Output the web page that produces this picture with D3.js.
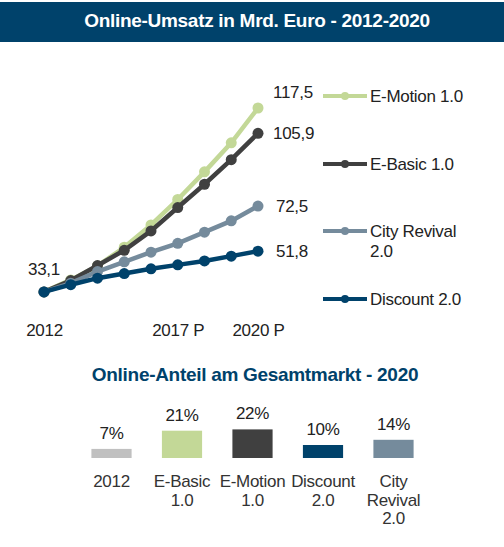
<!DOCTYPE html>
<html>
<head>
    <meta charset="utf-8">
    <title>Online-Umsatz</title>
    <script src="https://d3js.org/d3.v7.min.js"></script>
    <style>
        body { margin: 0; background: #fff; }
        text { font-family: "Liberation Sans", Arial, sans-serif; letter-spacing: -0.3px; }
    </style>
</head>
<body>
    <div id="chart"></div>

    <script>
        // line chart data
        var years = [2012, 2013, 2014, 2015, 2016, 2017, 2018, 2019, 2020];
        var yearLabels = {2012: "2012", 2017: "2017 P", 2020: "2020 P"};
        var seriesNames = ["E-Motion 1.0", "E-Basic 1.0", "City Revival 2.0", "Discount 2.0"];
        var eMotion = [33.1, 38.6, 45.0, 53.6, 63.8, 75.5, 88.2, 101.5, 117.5];
        var eBasic = [33.1, 38.3, 45.2, 52.2, 61.1, 71.8, 82.5, 93.8, 105.9];
        var cityRevival = [33.1, 37.1, 42.4, 46.9, 51.3, 55.4, 60.5, 65.7, 72.5];
        var discount = [33.1, 36.4, 39.4, 41.5, 43.7, 45.5, 47.3, 49.5, 51.8];

        // bar chart data
        var shareCategories = ["2012", "E-Basic 1.0", "E-Motion 1.0", "Discount 2.0", "City Revival 2.0"];
        var shareValues = [7, 21, 22, 10, 14];

        var colors = {
            "E-Motion 1.0": "#c3d897",
            "E-Basic 1.0": "#404040",
            "City Revival 2.0": "#758b9c",
            "Discount 2.0": "#00426b"
        };
        var barColors = ["#c0c0c0", "#c3d897", "#404040", "#00426b", "#758b9c"];
        var navy = "#00426b";

        var svg = d3.select("#chart").append("svg").attr("width", 504).attr("height", 547);

        // title bar
        svg.append("rect").attr("x", 0).attr("y", 2).attr("width", 504).attr("height", 40).attr("fill", navy);
        svg.append("text").attr("x", 257).attr("y", 27).attr("text-anchor", "middle")
           .attr("fill", "#fff").attr("font-weight", "bold").attr("font-size", 19)
           .text("Online-Umsatz in Mrd. Euro - 2012-2020");

        var x = d3.scalePoint().domain(years).range([44, 258]);
        var y = d3.scaleLinear().domain([0, 117.5]).range([364, 108]);

        var allSeries = [eMotion, eBasic, cityRevival, discount];
        var line = d3.line().x(function(d, i) { return x(years[i]); }).y(function(d) { return y(d); });

        allSeries.forEach(function(vals, k) {
            var c = colors[seriesNames[k]];
            var g = svg.append("g");
            g.append("path").datum(vals).attr("d", line)
             .attr("fill", "none").attr("stroke", c).attr("stroke-width", 4.5);
            g.selectAll("circle").data(vals).enter().append("circle")
             .attr("cx", function(d, i) { return x(years[i]); })
             .attr("cy", function(d) { return y(d); })
             .attr("r", 5.5).attr("fill", c);
        });

        // end value labels
        var labelShift = [-16, 0, 0, 0];
        var fmt = function(v) { return d3.format(".1f")(v).replace(".", ","); };
        allSeries.forEach(function(vals, k) {
            var last = vals[vals.length - 1];
            svg.append("text").attr("x", x(2020) + 15 + (k >= 2 ? 3 : 0))
               .attr("y", y(last) + labelShift[k] + 6)
               .attr("font-size", 17).attr("fill", "#222").text(fmt(last));
        });
        svg.append("text").attr("x", x(2012)).attr("y", y(discount[0]) - 17)
           .attr("text-anchor", "middle").attr("font-size", 17).attr("fill", "#222")
           .text(fmt(discount[0]));

        // x axis labels
        var xAxis = d3.axisBottom(x).tickValues([2012, 2017, 2020])
            .tickFormat(function(d) { return yearLabels[d]; }).tickSize(0).tickPadding(0);
        var ax = svg.append("g").attr("transform", "translate(0,324)").call(xAxis);
        ax.select(".domain").remove();
        ax.selectAll("text").attr("font-size", 17).attr("fill", "#222")
          .style("font-family", "'Liberation Sans', Arial, sans-serif");

        // legend
        var legendY = [96, 164, 231, 299];
        seriesNames.forEach(function(name, k) {
            var g = svg.append("g").attr("transform", "translate(0," + legendY[k] + ")");
            g.append("line").attr("x1", 323).attr("x2", 367).attr("y1", 0).attr("y2", 0)
             .attr("stroke", colors[name]).attr("stroke-width", 4);
            g.append("circle").attr("cx", 345).attr("cy", 0).attr("r", 4).attr("fill", colors[name]);
            var t = g.append("text").attr("x", 370).attr("y", 6).attr("font-size", 17).attr("fill", "#222");
            if (name === "City Revival 2.0") {
                t.append("tspan").attr("x", 370).text("City Revival");
                t.append("tspan").attr("x", 370).attr("dy", 20).text("2.0");
            } else {
                t.text(name);
            }
        });

        // second section
        svg.append("text").attr("x", 255).attr("y", 381).attr("text-anchor", "middle")
           .attr("fill", navy).attr("font-weight", "bold").attr("font-size", 19)
           .text("Online-Anteil am Gesamtmarkt - 2020");

        var xb = d3.scaleBand().domain(shareCategories).range([76.25, 428.75])
            .paddingInner(0.43).paddingOuter(0.215);
        var yb = d3.scaleLinear().domain([0, 22]).range([458, 429.4]);

        svg.selectAll(".bar").data(shareValues).enter().append("rect")
           .attr("class", "bar")
           .attr("x", function(d, i) { return xb(shareCategories[i]); })
           .attr("width", xb.bandwidth())
           .attr("y", function(d) { return yb(d); })
           .attr("height", function(d) { return yb(0) - yb(d); })
           .attr("fill", function(d, i) { return barColors[i]; });

        svg.selectAll(".pct").data(shareValues).enter().append("text")
           .attr("class", "pct")
           .attr("x", function(d, i) { return xb(shareCategories[i]) + xb.bandwidth() / 2; })
           .attr("y", function(d) { return yb(d) - 10; })
           .attr("text-anchor", "middle").attr("font-size", 17).attr("fill", "#222")
           .text(function(d) { return d + "%"; });

        // category labels, wrapped like the original
        var catLines = {
            "2012": ["2012"],
            "E-Basic 1.0": ["E-Basic", "1.0"],
            "E-Motion 1.0": ["E-Motion", "1.0"],
            "Discount 2.0": ["Discount", "2.0"],
            "City Revival 2.0": ["City", "Revival", "2.0"]
        };
        shareCategories.forEach(function(c) {
            var cx = xb(c) + xb.bandwidth() / 2;
            var t = svg.append("text").attr("x", cx).attr("y", 487)
               .attr("text-anchor", "middle").attr("font-size", 17).attr("fill", "#333");
            catLines[c].forEach(function(s, j) {
                t.append("tspan").attr("x", cx).attr("dy", j === 0 ? 0 : 18.5).text(s);
            });
        });
    </script>
</body>
</html>
